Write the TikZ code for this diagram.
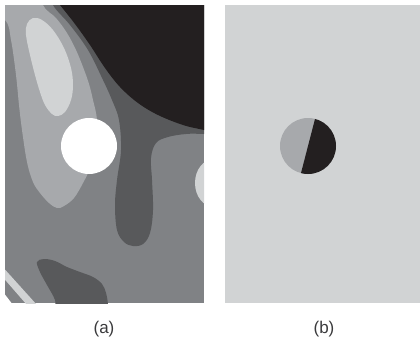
\documentclass[tikz,border=0pt]{standalone}
\usepackage{fontspec}
\setmainfont{Liberation Sans}
\definecolor{gLight}{HTML}{D1D3D4}
\definecolor{gPale}{HTML}{A7A9AC}
\definecolor{gMid}{HTML}{808285}
\definecolor{gDark}{HTML}{58595B}
\definecolor{gBlack}{HTML}{231F20}
\definecolor{gText}{HTML}{3A3A3C}
\begin{document}
\begin{tikzpicture}[x=1pt,y=-1pt,
  blob/.style={smooth cycle,tension=0.6},
  caption/.style={font=\fontsize{17}{19}\selectfont,text=gText,inner sep=0pt}]
\useasboundingbox (0,0) rectangle (420,340);

% ---------- panel (a): grey-level map ----------
\begin{scope}
\clip (5,5) rectangle (204,303);
\fill[gMid] (5,5) rectangle (204,303);
% dark band reaching down into a lobe, right of it the grey blob
\fill[gDark] plot[blob] coordinates {
  (50,-12) (53,5) (70,25) (88,50) (103,80) (112,100) (119,120) (121,150)
  (117,180) (115,205) (117,230) (124,242) (133,246) (143,244) (150,233)
  (153,210) (152,180) (151,158) (156,143) (168,137) (186,134) (204,134)
  (240,136) (250,-12)};
% black corner
\fill[gBlack] plot[blob] coordinates {
  (40,-20) (60,5) (75,24) (90,45) (105,68) (120,87) (138,103) (158,115)
  (183,125) (204,130) (240,138) (250,-20)};
% pale region on the left
\fill[gPale] plot[blob] coordinates {
  (-20,-20) (40,-20) (43,5) (56,18) (67,33) (76,50) (83,67) (89,84)
  (93,100) (97,120) (96,145) (90,168) (83,183) (74,198) (64,206) (57,208)
  (49,203) (40,193) (33,182) (27,162) (22,130) (19,105) (16,75) (11,40)
  (5,20) (-20,5)};
% light oval inside the pale region
\fill[gLight] plot[blob] coordinates {
  (33,18) (27,24) (26,35) (30,55) (35,75) (40,92) (45,105) (52,114)
  (58,116) (65,112) (71,100) (73,85) (71,68) (64,48) (53,30) (42,20)};
% dark patch at the bottom
\fill[gDark] plot[blob] coordinates {
  (37,262) (44,259) (55,261) (67,267) (80,272) (93,277) (102,284)
  (106,293) (108,305) (108,320) (60,320) (55,300) (47,285) (40,272)};
% light half disc on the right edge
\fill[gLight] (214,183) ellipse[x radius=19,y radius=24];
% stripes in the lower left corner
\fill[gLight] (0,264) -- (0,274) -- (27,305) -- (37,305) -- cycle;
\fill[white] (0,288) -- (0,305) -- (13,305) -- cycle;
% white disc
\fill[white] (89,146) circle[radius=28];
\end{scope}

% ---------- panel (b): uniform field with split disc ----------
\fill[gLight] (225,5) rectangle (420,303);
\fill[gPale] (308,146) circle[radius=28];
\begin{scope}
\clip (308,146) circle[radius=28];
\fill[gBlack] (322.5,90) -- (293.5,202) -- (360,202) -- (360,90) -- cycle;
\end{scope}

% ---------- captions ----------
\node[caption] (capA) at (104,329) {(a)};
\node[caption] (capB) at (324,329) {(b)};
\end{tikzpicture}
\end{document}
